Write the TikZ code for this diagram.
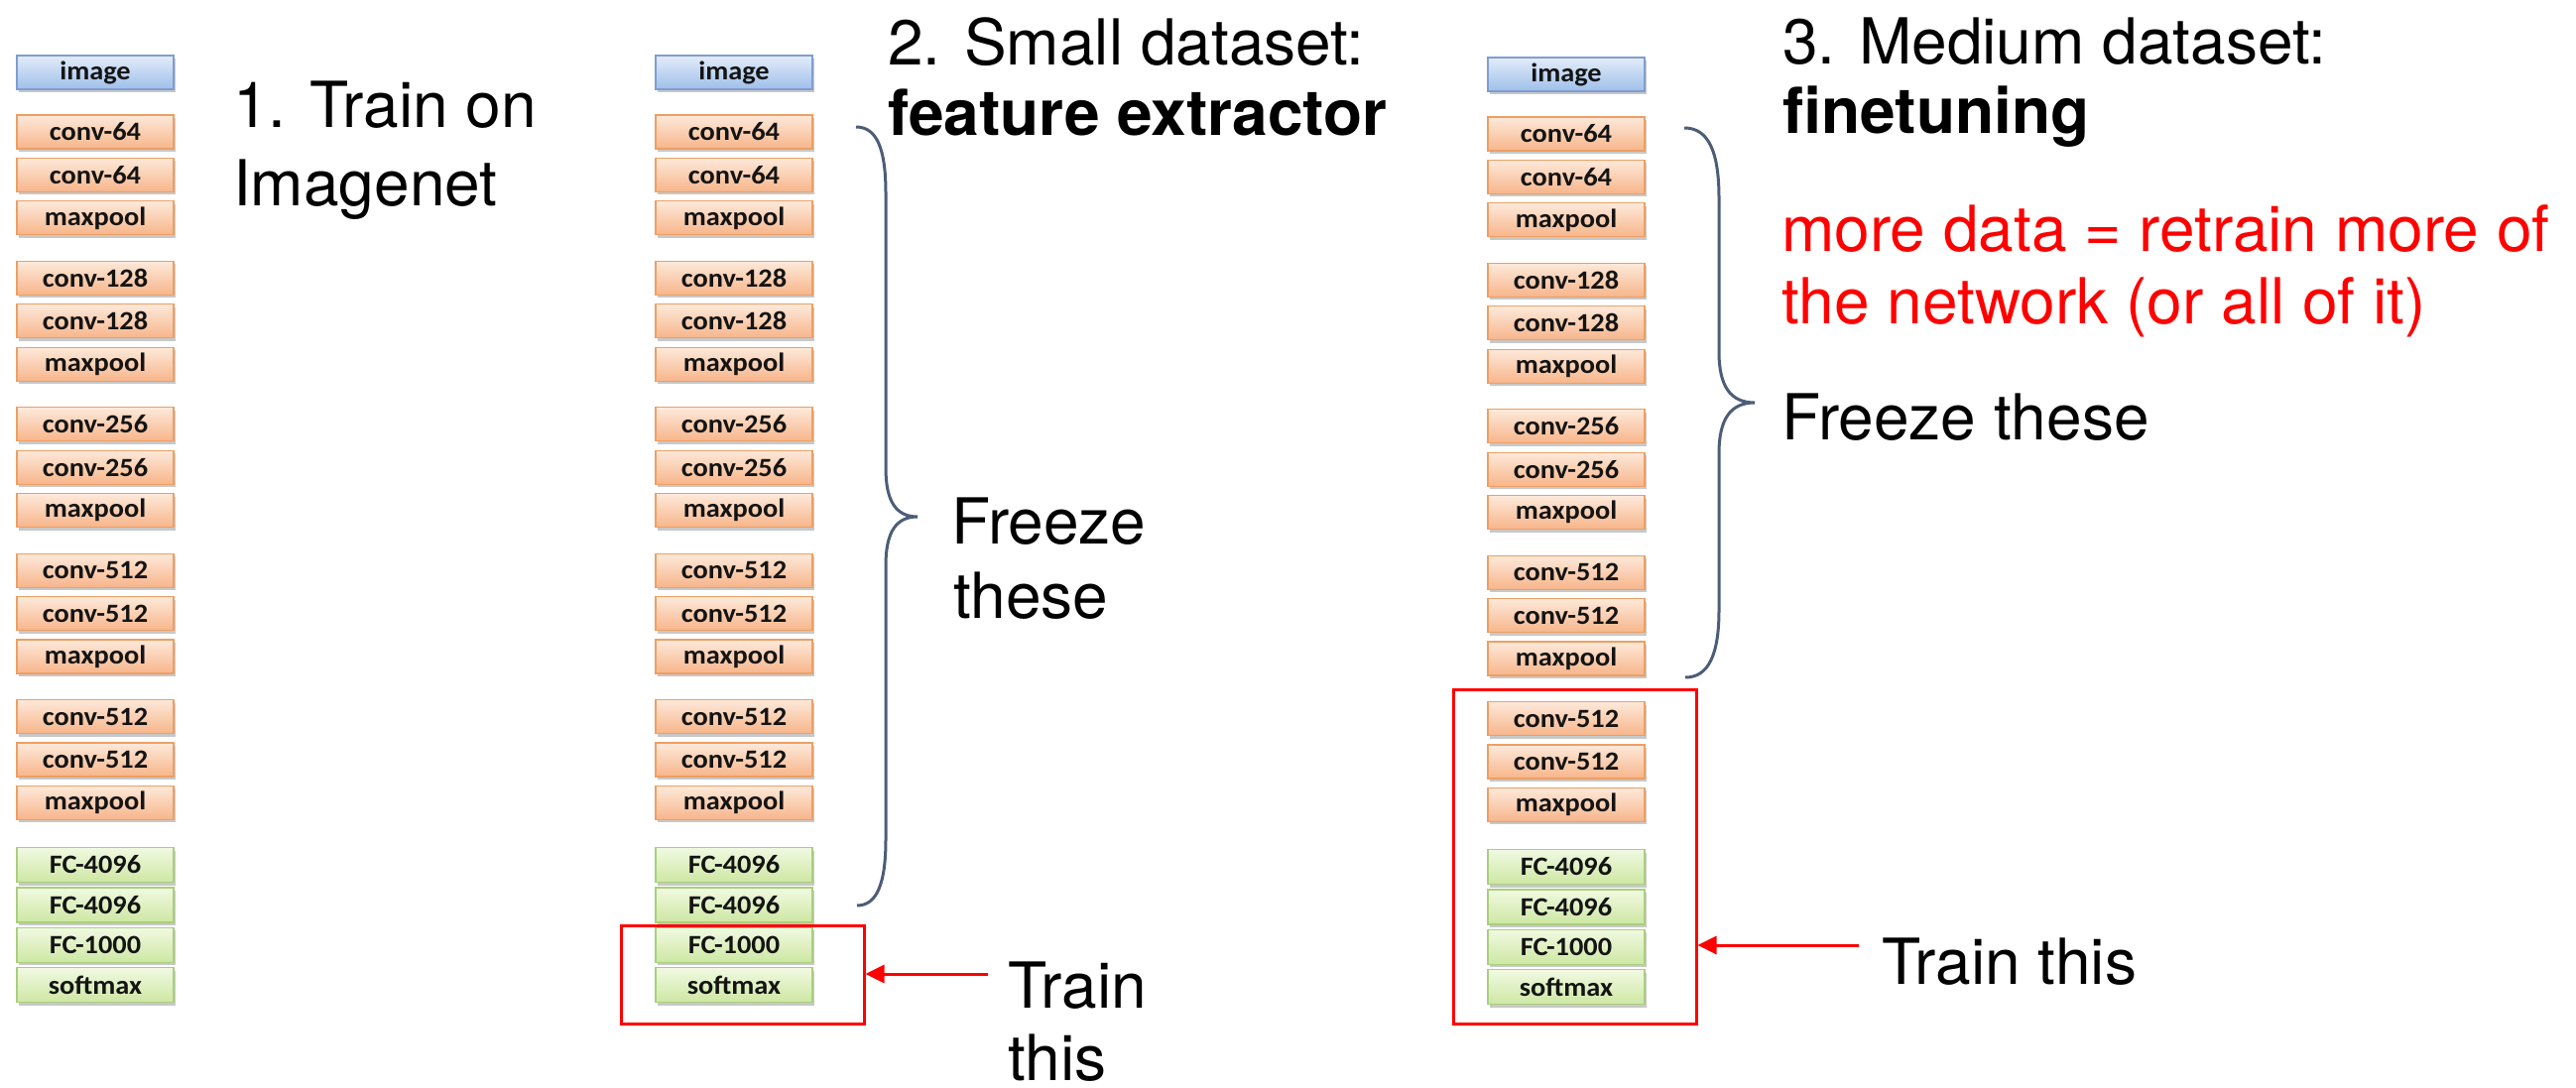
\documentclass[tikz,border=0pt]{standalone}
\usepackage{fontspec}
\setmainfont{TeX Gyre Heros}
\newfontfamily\boxfont{Carlito}
\usetikzlibrary{shadows,arrows.meta}
\definecolor{convTop}{HTML}{FDE9DA}
\definecolor{convBot}{HTML}{F7B58A}
\definecolor{convLine}{HTML}{EE9F63}
\definecolor{fcTop}{HTML}{F1F9E2}
\definecolor{fcBot}{HTML}{CDE7A2}
\definecolor{fcLine}{HTML}{A9CF7E}
\definecolor{imgTop}{HTML}{E3ECFA}
\definecolor{imgBot}{HTML}{9EBFEA}
\definecolor{imgLine}{HTML}{7F9ED0}
\definecolor{braceCol}{HTML}{4C5D78}
\definecolor{lblCol}{HTML}{141414}
\tikzset{
  layer/.style={draw, minimum width=158pt, minimum height=34pt, inner sep=0pt,
    line width=1.3pt, text=lblCol,
    font=\boxfont\bfseries\fontsize{26.5}{26.5}\selectfont,
    drop shadow={shadow xshift=1.5pt, shadow yshift=-3pt, opacity=0.3, fill=black!70}},
  convbox/.style={layer, draw=convLine, top color=convTop, bottom color=convBot},
  fcbox/.style={layer, draw=fcLine, top color=fcTop, bottom color=fcBot, minimum height=35pt},
  imgbox/.style={layer, draw=imgLine, top color=imgTop, bottom color=imgBot},
  bigtxt/.style={inner sep=0pt, anchor=base west, font=\fontsize{64}{77}\selectfont},
  redbox/.style={draw=red, line width=3pt, inner sep=0pt},
  redarrow/.style={draw=red, line width=3pt, -{Triangle[length=19pt,width=18pt]}},
  bracepath/.style={draw=braceCol, line width=3pt}
}
\newcommand\lbl[1]{\scalebox{1.07}[1]{#1}}
\newcommand\netcol[3]{%
  \node[imgbox] (#1-0) at (#2,{73+#3}) {\lbl{image}};
  \foreach \lab [count=\i] in {conv-64,conv-64,maxpool,conv-128,conv-128,maxpool,conv-256,conv-256,maxpool,conv-512,conv-512,maxpool,conv-512,conv-512,maxpool}{
    \pgfmathsetmacro\gg{int((\i-1)/3)}
    \pgfmathsetmacro\kk{int(mod(\i-1,3))}
    \node[convbox] (#1-\i) at (#2,{133+147.4*\gg+43.4*\kk+#3}) {\lbl{\lab}};
  }
  \foreach \lab [count=\i] in {FC-4096,FC-4096,FC-1000,softmax}{
    \node[fcbox] (#1-f\i) at (#2,{872+40.4*(\i-1)+#3}) {\lbl{\lab}};
  }
}
\begin{document}
\begin{tikzpicture}[x=1pt,y=-1pt]
\useasboundingbox[fill=white] (0,0) rectangle (2597,1097);
% columns
\netcol{a}{96}{0}
\netcol{b}{740}{0}
\netcol{c}{1579}{2}
% texts column 1
\node[bigtxt] (t1a) at (235,129) {1. Train on};
\node[bigtxt] (t1b) at (235,207) {Imagenet};
% texts column 2
\node[bigtxt] (t2a) at (895,66) {2. Small dataset:};
\node[bigtxt] (t2b) at (895,137) {\bfseries feature extractor};
\node[bigtxt] (t2c) at (959,548) {Freeze};
\node[bigtxt] (t2d) at (961,623) {these};
\node[bigtxt] (t2e) at (1016,1016) {Train};
\node[bigtxt] (t2f) at (1016,1089) {this};
% texts column 3
\node[bigtxt] (t3a) at (1797,65) {3. Medium dataset:};
\node[bigtxt] (t3b) at (1797,135) {\bfseries finetuning};
\node[bigtxt, text=red] (t3c) at (1796,253) {more data = retrain more of};
\node[bigtxt, text=red] (t3d) at (1796,326) {the network (or all of it)};
\node[bigtxt] (t3e) at (1796,443) {Freeze these};
\node[bigtxt] (t3f) at (1897,992) {Train this};
% red boxes
\node[redbox, minimum width=245pt, minimum height=99pt] (rb2) at (748.5,982.5) {};
\node[redbox, minimum width=245pt, minimum height=337pt] (rb3) at (1587.5,864) {};
% arrows
\coordinate (s2) at (996,982);
\coordinate (s3) at (1874,953);
\draw[redarrow] (s2) -- (s2 -| rb2.east);
\draw[redarrow] (s3) -- (s3 -| rb3.east);
% braces
\coordinate (b2top) at (863,128);
\coordinate (b2tip) at (925,521);
\coordinate (b2bot) at (864,913);
\draw[bracepath] (b2top) .. controls (884,128) and (893,150) .. (893,195)
  -- (893,472) .. controls (893,505) and (903,521) .. (b2tip)
  .. controls (903,521) and (893,537) .. (893,570)
  -- (893,846) .. controls (893,891) and (884,913) .. (b2bot);
\coordinate (b3top) at (1698,129);
\coordinate (b3tip) at (1769,406);
\coordinate (b3bot) at (1699,683);
\draw[bracepath] (b3top) .. controls (1722,129) and (1733,152) .. (1733,200)
  -- (1733,355) .. controls (1733,390) and (1745,406) .. (b3tip)
  .. controls (1745,406) and (1733,422) .. (1733,457)
  -- (1733,615) .. controls (1733,661) and (1722,683) .. (b3bot);
\end{tikzpicture}
\end{document}
